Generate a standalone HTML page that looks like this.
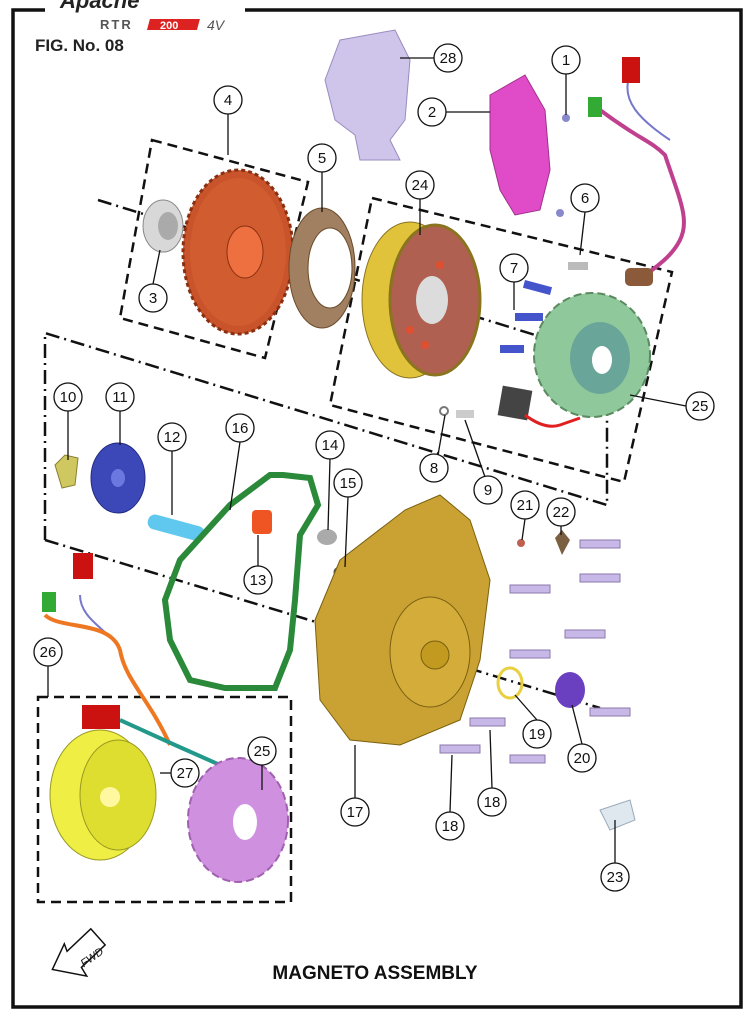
<!DOCTYPE html>
<html><head><meta charset="utf-8"><style>
html,body{margin:0;padding:0;background:#fff;}
svg{display:block;}
text{font-family:"Liberation Sans",Arial,sans-serif;}
</style></head><body>
<svg width="750" height="1017" viewBox="0 0 750 1017" xmlns="http://www.w3.org/2000/svg">
<rect width="750" height="1017" fill="#fff"/>
<!-- border -->
<path d="M45 10 H13 V1007 H741 V10 H245" fill="none" stroke="#111" stroke-width="3.5"/>
<!-- logo -->
<text x="60" y="8" font-size="22" font-style="italic" font-weight="bold" fill="#222">Apache</text>
<text x="100" y="29" font-size="13" font-weight="bold" fill="#555" letter-spacing="2">RTR</text>
<rect x="155" y="19" width="50" height="11" fill="#d22" transform="skewX(-15)"/>
<text x="160" y="29" font-size="11" font-weight="bold" fill="#fff">200</text>
<text x="207" y="30" font-size="14" font-style="italic" fill="#555">4V</text>
<text x="35" y="51" font-size="17" font-weight="bold" fill="#222">FIG. No. 08</text>

<!-- dashed boxes -->
<g fill="none" stroke="#111" stroke-width="2.5" stroke-dasharray="10,6">
<polygon points="152,140 308,182 265,358 120,318"/>
<polygon points="372,198 672,272 624,482 330,405"/>
<rect x="38" y="697" width="253" height="205"/>
</g>
<g fill="none" stroke="#111" stroke-width="2.5" stroke-dasharray="14,5,2,5">
<polyline points="45,540 45,333 607,505 607,400"/>
<line x1="98" y1="200" x2="600" y2="355"/>
<line x1="45" y1="540" x2="600" y2="708"/>
</g>

<!-- part 28 purple cover -->
<path d="M340 40 L395 30 L410 60 L405 120 L390 140 L400 160 L360 160 L355 135 L335 120 L325 80 Z" fill="#cfc4ea" stroke="#998bc0"/>
<!-- part 2 magenta -->
<path d="M490 95 L525 75 L545 110 L550 170 L540 210 L515 215 L500 190 L490 150 Z" fill="#e04cc8" stroke="#a0308a"/>
<!-- wires upper right -->
<path d="M600 110 C640 140 650 140 665 155 C680 200 690 220 680 240 C670 260 650 270 640 280" fill="none" stroke="#c04090" stroke-width="4"/>
<path d="M630 75 C620 100 640 120 670 140" fill="none" stroke="#7777cc" stroke-width="2"/>
<rect x="622" y="57" width="18" height="26" fill="#cc1111"/>
<rect x="588" y="97" width="14" height="20" fill="#33aa33"/>
<rect x="625" y="268" width="28" height="18" rx="5" fill="#8a5a3a"/>
<!-- bolts small -->
<circle cx="566" cy="118" r="4" fill="#8888cc"/><circle cx="560" cy="213" r="4" fill="#8888cc"/>
<!-- part 3 bearing -->
<ellipse cx="163" cy="226" rx="20" ry="26" fill="#d8d8d8" stroke="#888"/>
<ellipse cx="168" cy="226" rx="10" ry="14" fill="#aaa"/>
<!-- part 4 gear -->
<ellipse cx="238" cy="252" rx="55" ry="82" fill="#c9532a" stroke="#8a3010" stroke-width="3" stroke-dasharray="4,3"/>
<ellipse cx="238" cy="252" rx="48" ry="74" fill="#d05c30"/>
<ellipse cx="245" cy="252" rx="18" ry="26" fill="#ee7040" stroke="#8a3010"/>
<!-- part 5 clutch -->
<ellipse cx="322" cy="268" rx="33" ry="60" fill="#a08060" stroke="#6a4a2a"/>
<ellipse cx="330" cy="268" rx="22" ry="40" fill="#fff" stroke="#6a4a2a"/>
<!-- part 24 flywheel -->
<ellipse cx="410" cy="300" rx="48" ry="78" fill="#e0c33a" stroke="#8a7420"/>
<ellipse cx="435" cy="300" rx="45" ry="75" fill="#b06050" stroke="#8a7420" stroke-width="3"/>
<ellipse cx="432" cy="300" rx="16" ry="24" fill="#dcdcdc"/>
<circle cx="425" cy="345" r="4" fill="#e05030"/><circle cx="410" cy="330" r="4" fill="#e05030"/><circle cx="440" cy="265" r="4" fill="#e05030"/>
<!-- bolts 7 -->
<g fill="#4455cc"><rect x="525" y="280" width="28" height="8" transform="rotate(15 525 280)"/><rect x="515" y="313" width="28" height="8"/><rect x="500" y="345" width="24" height="8"/><rect x="568" y="262" width="20" height="8" fill="#bbb"/></g>
<!-- part 25 stator -->
<ellipse cx="592" cy="355" rx="58" ry="62" fill="#8fc89a" stroke="#5a8a60" stroke-width="2" stroke-dasharray="8,4"/>
<ellipse cx="600" cy="358" rx="30" ry="36" fill="#6aa59a"/>
<ellipse cx="602" cy="360" rx="10" ry="14" fill="#fff"/>
<rect x="500" y="388" width="30" height="30" fill="#444" transform="rotate(10 515 403)"/>
<path d="M525 415 Q545 430 560 425 L580 418" fill="none" stroke="#e02020" stroke-width="3"/>
<circle cx="444" cy="411" r="4" fill="none" stroke="#777" stroke-width="2"/>
<rect x="456" y="410" width="18" height="8" fill="#ccc"/>
<!-- part 10 -->
<path d="M55 465 L65 455 L78 458 L75 485 L62 488 Z" fill="#cfc860" stroke="#887f30"/>
<!-- part 11 -->
<ellipse cx="118" cy="478" rx="27" ry="35" fill="#3c48b8" stroke="#222a80"/>
<ellipse cx="118" cy="478" rx="7" ry="9" fill="#6b78e0"/>
<!-- part 12 -->
<rect x="150" y="513" width="58" height="15" rx="7" fill="#60c8ee" transform="rotate(15 150 513)"/>
<!-- gasket 16 -->
<path d="M283 475 L310 478 L318 505 L300 535 L295 600 L290 650 L275 688 L225 688 L190 680 L170 640 L165 600 L180 560 L230 505 L270 475 Z" fill="none" stroke="#2a8a3a" stroke-width="6"/>
<!-- 13 -->
<rect x="252" y="510" width="20" height="24" rx="4" fill="#ee5522"/>
<!-- 14 15 -->
<ellipse cx="327" cy="537" rx="10" ry="8" fill="#aaa"/>
<ellipse cx="344" cy="572" rx="9" ry="5" fill="none" stroke="#555" stroke-width="3"/>
<!-- cover 17 -->
<path d="M340 560 L405 510 L440 495 L470 520 L490 580 L480 660 L460 720 L400 745 L350 740 L320 700 L315 620 Z" fill="#c9a233" stroke="#7a6010"/>
<ellipse cx="430" cy="652" rx="40" ry="55" fill="#d4ac3a" stroke="#7a6010"/>
<circle cx="435" cy="655" r="14" fill="#c29a20" stroke="#7a6010"/>
<!-- bolts right -->
<g fill="#c8b8e8" stroke="#8a78aa">
<rect x="580" y="540" width="40" height="8"/><rect x="580" y="574" width="40" height="8"/><rect x="510" y="585" width="40" height="8"/><rect x="565" y="630" width="40" height="8"/><rect x="510" y="650" width="40" height="8"/><rect x="590" y="708" width="40" height="8"/><rect x="470" y="718" width="35" height="8"/><rect x="510" y="755" width="35" height="8"/><rect x="440" y="745" width="40" height="8"/>
</g>
<circle cx="521" cy="543" r="4" fill="#c06050"/>
<path d="M555 538 L562 530 L570 540 L562 555 Z" fill="#7a6040"/>
<ellipse cx="510" cy="683" rx="12" ry="15" fill="none" stroke="#e8d040" stroke-width="3"/>
<ellipse cx="570" cy="690" rx="15" ry="18" fill="#6a40c0"/>
<path d="M600 810 L630 800 L635 820 L610 830 Z" fill="#dfe8ee" stroke="#9ab"/>
<!-- bottom assembly wires -->
<rect x="73" y="553" width="20" height="26" fill="#cc1111"/>
<rect x="42" y="592" width="14" height="20" fill="#33aa33"/>
<path d="M80 595 C80 620 110 630 120 650" fill="none" stroke="#7777cc" stroke-width="2"/>
<path d="M45 615 C60 630 110 620 120 650 C125 680 150 700 170 745" fill="none" stroke="#ee7722" stroke-width="4"/>
<path d="M120 720 L175 745 L220 765 L222 790" fill="none" stroke="#22998a" stroke-width="4"/>
<rect x="82" y="705" width="38" height="24" fill="#cc1111"/>
<ellipse cx="100" cy="795" rx="50" ry="65" fill="#eeee44" stroke="#999922"/>
<ellipse cx="118" cy="795" rx="38" ry="55" fill="#dede30" stroke="#999922"/>
<circle cx="110" cy="797" r="10" fill="#fff8a0"/>
<ellipse cx="238" cy="820" rx="50" ry="62" fill="#d090e0" stroke="#a060b0" stroke-width="2" stroke-dasharray="8,4"/>
<ellipse cx="245" cy="822" rx="12" ry="18" fill="#fff"/>

<!-- leader lines -->
<g stroke="#111" stroke-width="1.3" fill="none">
<line x1="566" y1="74" x2="566" y2="115"/>
<line x1="446" y1="112" x2="490" y2="112"/>
<line x1="434" y1="58" x2="400" y2="58"/>
<line x1="228" y1="114" x2="228" y2="155"/>
<line x1="322" y1="172" x2="322" y2="212"/>
<line x1="420" y1="199" x2="420" y2="235"/>
<line x1="585" y1="212" x2="580" y2="255"/>
<line x1="153" y1="284" x2="160" y2="250"/>
<line x1="514" y1="282" x2="514" y2="310"/>
<line x1="686" y1="406" x2="630" y2="395"/>
<line x1="68" y1="411" x2="68" y2="460"/>
<line x1="120" y1="411" x2="120" y2="445"/>
<line x1="172" y1="451" x2="172" y2="515"/>
<line x1="240" y1="442" x2="230" y2="510"/>
<line x1="330" y1="459" x2="328" y2="530"/>
<line x1="348" y1="497" x2="345" y2="567"/>
<line x1="438" y1="455" x2="445" y2="415"/>
<line x1="485" y1="477" x2="465" y2="420"/>
<line x1="525" y1="519" x2="522" y2="540"/>
<line x1="561" y1="526" x2="561" y2="535"/>
<line x1="258" y1="566" x2="258" y2="535"/>
<line x1="48" y1="666" x2="48" y2="697"/>
<line x1="262" y1="765" x2="262" y2="790"/>
<line x1="171" y1="773" x2="160" y2="773"/>
<line x1="355" y1="798" x2="355" y2="745"/>
<line x1="450" y1="812" x2="452" y2="755"/>
<line x1="492" y1="788" x2="490" y2="730"/>
<line x1="537" y1="720" x2="515" y2="695"/>
<line x1="582" y1="744" x2="572" y2="705"/>
<line x1="615" y1="863" x2="615" y2="820"/>
</g>
<!-- callouts -->
<g fill="#fff" stroke="#111" stroke-width="1.3">
<circle cx="566" cy="60" r="14"/><circle cx="432" cy="112" r="14"/><circle cx="448" cy="58" r="14"/><circle cx="228" cy="100" r="14"/><circle cx="322" cy="158" r="14"/><circle cx="420" cy="185" r="14"/><circle cx="585" cy="198" r="14"/><circle cx="153" cy="298" r="14"/><circle cx="514" cy="268" r="14"/><circle cx="700" cy="406" r="14"/><circle cx="68" cy="397" r="14"/><circle cx="120" cy="397" r="14"/><circle cx="172" cy="437" r="14"/><circle cx="240" cy="428" r="14"/><circle cx="330" cy="445" r="14"/><circle cx="348" cy="483" r="14"/><circle cx="434" cy="468" r="14"/><circle cx="488" cy="490" r="14"/><circle cx="525" cy="505" r="14"/><circle cx="561" cy="512" r="14"/><circle cx="258" cy="580" r="14"/><circle cx="48" cy="652" r="14"/><circle cx="262" cy="751" r="14"/><circle cx="185" cy="773" r="14"/><circle cx="355" cy="812" r="14"/><circle cx="450" cy="826" r="14"/><circle cx="492" cy="802" r="14"/><circle cx="537" cy="734" r="14"/><circle cx="582" cy="758" r="14"/><circle cx="615" cy="877" r="14"/>
</g>
<g font-size="15" text-anchor="middle" fill="#111">
<text x="566" y="65">1</text><text x="432" y="117">2</text><text x="448" y="63">28</text><text x="228" y="105">4</text><text x="322" y="163">5</text><text x="420" y="190">24</text><text x="585" y="203">6</text><text x="153" y="303">3</text><text x="514" y="273">7</text><text x="700" y="411">25</text><text x="68" y="402">10</text><text x="120" y="402">11</text><text x="172" y="442">12</text><text x="240" y="433">16</text><text x="330" y="450">14</text><text x="348" y="488">15</text><text x="434" y="473">8</text><text x="488" y="495">9</text><text x="525" y="510">21</text><text x="561" y="517">22</text><text x="258" y="585">13</text><text x="48" y="657">26</text><text x="262" y="756">25</text><text x="185" y="778">27</text><text x="355" y="817">17</text><text x="450" y="831">18</text><text x="492" y="807">18</text><text x="537" y="739">19</text><text x="582" y="763">20</text><text x="615" y="882">23</text>
</g>
<!-- FWD arrow -->
<path d="M50 960 L70 940 L70 948 L100 935 L108 955 L78 968 L80 978 Z" fill="#fff" stroke="#111" stroke-width="1.5" transform="rotate(-20 78 958)"/>
<text x="82" y="968" font-size="11" font-style="italic" fill="#111" transform="rotate(-35 82 965)">FWD</text>
<text x="375" y="979" font-size="19" font-weight="bold" text-anchor="middle" fill="#111">MAGNETO ASSEMBLY</text>
</svg>
</body></html>
